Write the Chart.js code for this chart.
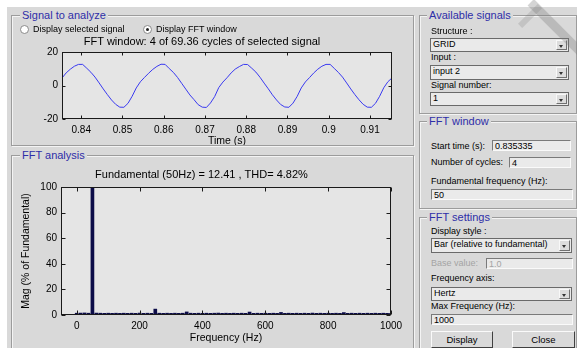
<!DOCTYPE html>
<html>
<head>
<meta charset="utf-8">
<script src="https://cdn.jsdelivr.net/npm/chart.js@4.4.1/dist/chart.umd.min.js"></script>
<style>
  body { margin: 0; width: 577px; height: 348px; background: #fff; overflow: hidden; position: relative;
         font-family: 'Liberation Sans', Arial, sans-serif; }
  #fundo { position: absolute; left: 7px; top: 7px; width: 570px; height: 341px; background: #d9d9d9; }
  .quadro { position: absolute; border: 1px solid #9c9c9c; box-shadow: 1px 1px 0 #f4f4f4, inset 1px 1px 0 #f4f4f4; z-index: 3; }
  .titulo { position: absolute; background: #d9d9d9; color: #2e2ea8; font-size: 11px; line-height: 12px; padding: 0 2px; z-index: 4; white-space: nowrap; }
  .rot { position: absolute; font-size: 9px; line-height: 11px; color: #000; white-space: nowrap; z-index: 4; }
  .rot.off { color: #a4a4a4; }
  .caixa { position: absolute; background: #eaeaea; border-top: 1px solid #7a7a7a; border-left: 1px solid #7a7a7a;
           border-right: 1px solid #fafafa; border-bottom: 1px solid #fafafa; font-size: 9px; line-height: 10px;
           padding-left: 2px; box-sizing: border-box; white-space: nowrap; z-index: 4; }
  .caixa.off { color: #a4a4a4; }
  .lista { position: absolute; background: #eaeaea; border: 1px solid #6a6a6a; font-size: 9px; box-sizing: border-box;
           padding-left: 2px; white-space: nowrap; z-index: 4; }
  .seta { position: absolute; right: 1px; top: 1px; bottom: 1px; width: 11px; background: #dcdcdc;
          border-left: 1px solid #f8f8f8; border-top: 1px solid #f8f8f8; border-right: 1px solid #707070; border-bottom: 1px solid #707070; box-sizing: border-box; }
  .seta::after { content: ''; position: absolute; left: 2px; top: 4px; border-left: 2.5px solid transparent;
                 border-right: 2.5px solid transparent; border-top: 3px solid #333; }
  .botao { position: absolute; background: #d9d9d9; border-top: 1px solid #fafafa; border-left: 1px solid #fafafa;
           border-right: 1px solid #404040; border-bottom: 1px solid #404040; box-sizing: border-box;
           font-size: 9.5px; text-align: center; z-index: 4; }
  .radio { position: absolute; width: 9px; height: 9px; border-radius: 50%; background: #fff; border: 1px solid #8a8a8a; box-sizing: border-box; z-index: 4; }
  .radio.on::after { content: ''; position: absolute; left: 2px; top: 2px; width: 3px; height: 3px; border-radius: 50%; background: #222; }
  canvas { position: absolute; z-index: 2; }
  .marca { position: absolute; background: rgba(120,120,120,0.32); z-index: 6; }
</style>
</head>
<body>
<div id="fundo"></div>

<!-- Signal to analyze -->
<div class="quadro" style="left:11px;top:15px;width:401px;height:129px;"></div>
<div class="titulo" style="left:20px;top:9px;">Signal to analyze</div>
<div class="radio" style="left:20px;top:25px;"></div>
<div class="rot" style="left:33px;top:24px;">Display selected signal</div>
<div class="radio on" style="left:143px;top:25px;"></div>
<div class="rot" style="left:156px;top:24px;">Display FFT window</div>
<canvas id="grafico-sinal" width="398" height="114" style="left:12px;top:33px;"></canvas>

<!-- FFT analysis -->
<div class="quadro" style="left:11px;top:155px;width:401px;height:200px;"></div>
<div class="titulo" style="left:20px;top:149px;">FFT analysis</div>
<canvas id="grafico-fft" width="398" height="185" style="left:12px;top:163px;"></canvas>

<!-- Available signals -->
<div class="quadro" style="left:419px;top:15px;width:156px;height:97px;"></div>
<div class="titulo" style="left:427px;top:9px;">Available signals</div>
<div class="rot" style="left:431px;top:26px;">Structure :</div>
<div class="lista" style="left:430px;top:38px;width:139px;height:14px;">GRID<div class="seta"></div></div>
<div class="rot" style="left:431px;top:52px;">Input :</div>
<div class="lista" style="left:430px;top:65px;width:139px;height:15px;">input 2<div class="seta"></div></div>
<div class="rot" style="left:431px;top:80px;">Signal number:</div>
<div class="lista" style="left:430px;top:92px;width:139px;height:14px;">1<div class="seta"></div></div>

<!-- FFT window -->
<div class="quadro" style="left:419px;top:121px;width:156px;height:86px;"></div>
<div class="titulo" style="left:427px;top:115px;">FFT window</div>
<div class="rot" style="left:431px;top:141px;">Start time (s):</div>
<div class="caixa" style="left:492px;top:140px;width:79px;height:11px;">0.835335</div>
<div class="rot" style="left:431px;top:157px;">Number of cycles:</div>
<div class="caixa" style="left:509px;top:157px;width:62px;height:11px;">4</div>
<div class="rot" style="left:431px;top:176px;">Fundamental frequency (Hz):</div>
<div class="caixa" style="left:431px;top:189px;width:142px;height:11px;">50</div>

<!-- FFT settings -->
<div class="quadro" style="left:419px;top:217px;width:156px;height:140px;"></div>
<div class="titulo" style="left:427px;top:211px;">FFT settings</div>
<div class="rot" style="left:431px;top:226px;">Display style :</div>
<div class="lista" style="left:431px;top:238px;width:141px;height:15px;">Bar (relative to fundamental)<div class="seta"></div></div>
<div class="rot off" style="left:431px;top:258px;">Base value:</div>
<div class="caixa off" style="left:486px;top:258px;width:87px;height:11px;">1.0</div>
<div class="rot" style="left:431px;top:273px;">Frequency axis:</div>
<div class="lista" style="left:431px;top:287px;width:141px;height:14px;">Hertz<div class="seta"></div></div>
<div class="rot" style="left:431px;top:301px;">Max Frequency (Hz):</div>
<div class="caixa" style="left:431px;top:314px;width:142px;height:11px;">1000</div>
<div class="botao" style="left:431px;top:331px;width:62px;height:17px;line-height:15px;">Display</div>
<div class="botao" style="left:512px;top:331px;width:63px;height:17px;line-height:15px;">Close</div>

<!-- marca d'agua no canto -->
<div class="marca" style="left:551px;top:-8px;width:9px;height:70px;transform:rotate(-45deg);"></div>
<div class="marca" style="left:527px;top:2px;width:6px;height:28px;transform:rotate(45deg);background:rgba(120,120,120,0.22);"></div>

<script>
// sinal medido na janela FFT (4 ciclos), amostras a cada 1 ms
const inicioJanela = 0.835335;
const passoTempo = 0.001;
const sinal = [
  4.5, 7.6, 9.8, 11.6, 12.7, 12.7, 10.4, 8.0, 5.1, 1.6, -2.0, -5.4, -8.6, -11.2, -12.9, -13.0, -10.6, -6.4, -1.4, 2.3,
  4.9, 7.4, 9.7, 11.5, 12.8, 12.7, 10.2, 7.9, 4.9, 1.4, -2.1, -5.6, -8.4, -11.4, -12.9, -13.1, -10.4, -6.6, -1.2, 2.1,
  4.7, 7.6, 9.9, 11.4, 12.7, 12.6, 10.4, 8.1, 5.0, 1.5, -1.9, -5.5, -8.6, -11.3, -12.8, -13.0, -10.5, -6.5, -1.4, 2.2,
  4.8, 7.5, 9.8, 11.6, 12.7, 12.7, 10.3, 7.9, 5.1, 1.6, -2.0, -5.4, -8.5, -11.2, -12.9, -13.0, -10.6, -6.4, -1.3, 2.3,
  4.6
];

// espectro: raias a cada 12.5 Hz (4 ciclos de 50 Hz), em % da fundamental
const passoFreq = 12.5;
const magnitude = [
  1.4, 1.5, 1.6, 1.4, 100, 1.5, 1.4, 1.3, 1.4, 1.3, 1.4, 1.3, 1.4, 1.3, 1.4, 1.3, 1.5, 1.3, 1.4, 1.3,
  4.6, 1.4, 1.3, 1.4, 1.3, 1.4, 1.3, 1.4, 2.4, 1.4, 1.3, 1.4, 1.3, 1.4, 1.3, 1.4, 1.5, 1.3, 1.4, 1.3,
  1.4, 1.3, 1.4, 1.3, 2.3, 1.3, 1.4, 1.3, 1.4, 1.3, 1.4, 1.3, 2.0, 1.3, 1.4, 1.3, 1.4, 1.3, 1.4, 1.3,
  1.5, 1.3, 1.4, 1.3, 1.4, 1.3, 1.4, 1.3, 1.9, 1.3, 1.4, 1.3, 1.4, 1.3, 1.4, 1.3, 1.4, 1.3, 1.4, 1.3,
  1.4
];

const ticksTempo = [0.84, 0.85, 0.86, 0.87, 0.88, 0.89, 0.9, 0.91];
const ticksSinal = [-20, 0, 20];
const ticksFreq = [0, 200, 400, 600, 800, 1000];
const ticksMag = [0, 20, 40, 60, 80, 100];

const fonte = "'Liberation Sans', Arial, sans-serif";

// caixa estilo MATLAB: fundo do eixo, contorno e marcas para dentro
const caixaMatlab = {
  id: 'caixaMatlab',
  beforeDraw(chart) {
    const a = chart.chartArea;
    const ctx = chart.ctx;
    ctx.save();
    ctx.fillStyle = '#e5e5e5';
    ctx.fillRect(a.left, a.top, a.right - a.left, a.bottom - a.top);
    ctx.restore();
  },
  afterDatasetsDraw(chart, args, opts) {
    const a = chart.chartArea;
    const ctx = chart.ctx;
    const l = Math.round(a.left) + 0.5, r = Math.round(a.right) - 0.5;
    const t = Math.round(a.top) + 0.5, b = Math.round(a.bottom) - 0.5;
    const tam = opts.tamanho || 3;
    ctx.save();
    ctx.strokeStyle = '#1a1a1a';
    ctx.lineWidth = 1;
    ctx.beginPath();
    chart.scales.x.ticks.forEach(tk => {
      const px = Math.round(chart.scales.x.getPixelForValue(tk.value)) + 0.5;
      ctx.moveTo(px, b); ctx.lineTo(px, b - tam);
      ctx.moveTo(px, t); ctx.lineTo(px, t + tam);
    });
    chart.scales.y.ticks.forEach(tk => {
      const py = Math.round(chart.scales.y.getPixelForValue(tk.value)) + 0.5;
      ctx.moveTo(l, py); ctx.lineTo(l + tam, py);
      ctx.moveTo(r, py); ctx.lineTo(r - tam, py);
    });
    ctx.stroke();
    ctx.strokeRect(l, t, r - l, b - t);
    ctx.restore();
  }
};

function fixarTicks(lista) {
  return scale => { scale.ticks = lista.map(v => ({ value: v })); };
}

// grafico do sinal no tempo
const pontosSinal = sinal.map((v, i) => ({ x: inicioJanela + i * passoTempo, y: v }));

new Chart(document.getElementById('grafico-sinal'), {
  type: 'line',
  data: {
    datasets: [{
      data: pontosSinal,
      borderColor: '#3a3af0',
      borderWidth: 1,
      pointRadius: 0,
      tension: 0
    }]
  },
  options: {
    responsive: false,
    animation: false,
    devicePixelRatio: 1,
    layout: { padding: { left: 0, right: 18, top: 0, bottom: 0 } },
    plugins: {
      legend: { display: false },
      tooltip: { enabled: false },
      title: {
        display: true,
        text: 'FFT window: 4 of 69.36 cycles of selected signal',
        color: '#000',
        font: { family: fonte, size: 11, weight: 'normal' },
        padding: { top: 2, bottom: 4 }
      },
      caixaMatlab: { tamanho: 3 }
    },
    scales: {
      x: {
        type: 'linear',
        min: inicioJanela,
        max: inicioJanela + 0.08,
        afterBuildTicks: fixarTicks(ticksTempo),
        afterFit: s => { s.height = 28; },
        grid: { display: false, drawTicks: false },
        border: { display: false },
        ticks: { color: '#000', padding: 5, font: { family: fonte, size: 10 }, callback: v => String(+v.toFixed(2)), maxRotation: 0 },
        title: { display: true, text: 'Time (s)', color: '#000', font: { family: fonte, size: 10.5 }, padding: 0 }
      },
      y: {
        min: -20,
        max: 20,
        afterBuildTicks: fixarTicks(ticksSinal),
        afterFit: s => { s.width = 50; },
        grid: { display: false, drawTicks: false },
        border: { display: false },
        ticks: { color: '#000', padding: 4, font: { family: fonte, size: 10 } }
      }
    }
  },
  plugins: [caixaMatlab]
});

// grafico do espectro
const pontosFft = magnitude.map((v, i) => ({ x: i * passoFreq, y: v }));

new Chart(document.getElementById('grafico-fft'), {
  type: 'bar',
  data: {
    datasets: [{
      data: pontosFft,
      backgroundColor: '#0c0c48',
      barThickness: 3
    }]
  },
  options: {
    responsive: false,
    animation: false,
    devicePixelRatio: 1,
    layout: { padding: { left: 0, right: 19, top: 0, bottom: 0 } },
    plugins: {
      legend: { display: false },
      tooltip: { enabled: false },
      title: {
        display: true,
        text: 'Fundamental (50Hz) = 12.41 , THD= 4.82%',
        color: '#000',
        font: { family: fonte, size: 11, weight: 'normal' },
        padding: { top: 5, bottom: 5.8 }
      },
      caixaMatlab: { tamanho: 4 }
    },
    scales: {
      x: {
        type: 'linear',
        offset: false,
        min: -50,
        max: 1000,
        afterBuildTicks: fixarTicks(ticksFreq),
        afterFit: s => { s.height = 33; },
        grid: { display: false, drawTicks: false, offset: false },
        border: { display: false },
        ticks: { color: '#000', padding: 5, font: { family: fonte, size: 10 }, callback: v => String(v), maxRotation: 0 },
        title: { display: true, text: 'Frequency (Hz)', color: '#000', font: { family: fonte, size: 10.5 }, padding: { top: 0, bottom: 4 } }
      },
      y: {
        min: 0,
        max: 100,
        afterBuildTicks: fixarTicks(ticksMag),
        afterFit: s => { s.width = 49; },
        grid: { display: false, drawTicks: false },
        border: { display: false },
        ticks: { color: '#000', padding: 4, font: { family: fonte, size: 10 } },
        title: { display: true, text: 'Mag (% of Fundamental)', color: '#000', font: { family: fonte, size: 10.5 }, padding: { top: 8, bottom: 0 } }
      }
    }
  },
  plugins: [caixaMatlab]
});
</script>
</body>
</html>
